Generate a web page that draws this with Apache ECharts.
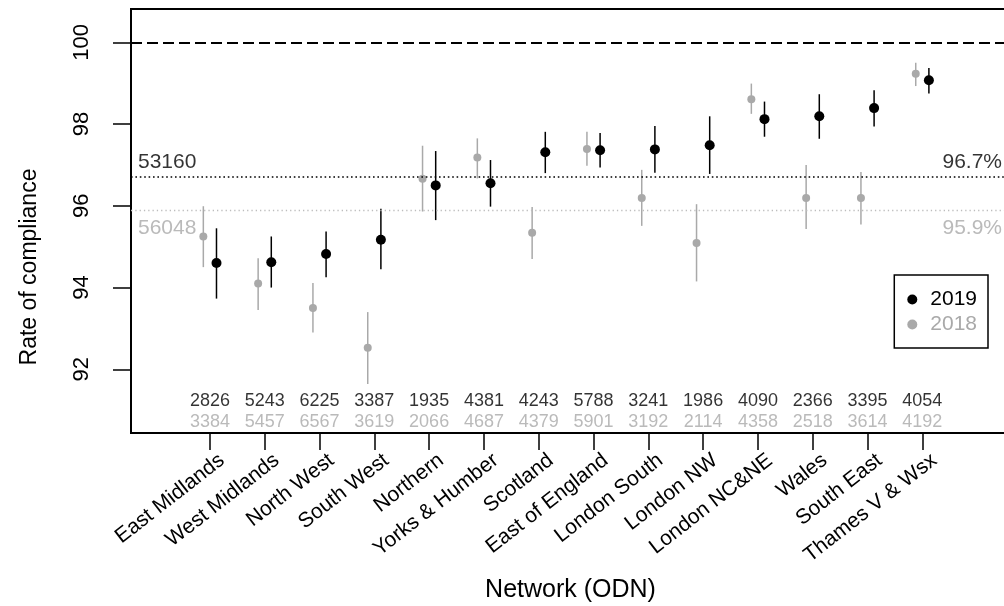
<!DOCTYPE html>
<html>
<head>
<meta charset="utf-8">
<script src="https://cdn.jsdelivr.net/npm/echarts@6/dist/echarts.min.js"></script>
<style>
  html, body { margin: 0; padding: 0; background: #fff; }
  #chart { width: 1004px; height: 606px; }
</style>
</head>
<body>
<div id="chart"></div>
<script>
// Networks, ordered by 2019 compliance
const categories = ['East Midlands', 'West Midlands', 'North West', 'South West', 'Northern',
  'Yorks & Humber', 'Scotland', 'East of England', 'London South', 'London NW',
  'London NC&NE', 'Wales', 'South East', 'Thames V & Wsx'];

// 2019: rate of compliance (%) with 95% interval
const rate2019 = [94.60, 94.62, 94.82, 95.17, 96.50, 96.55, 97.31, 97.36, 97.38, 97.48, 98.12, 98.19, 98.39, 99.07];
const low2019  = [93.73, 94.00, 94.25, 94.45, 95.65, 95.98, 96.80, 96.94, 96.81, 96.78, 97.69, 97.64, 97.94, 98.75];
const high2019 = [95.45, 95.25, 95.37, 95.93, 97.34, 97.12, 97.81, 97.78, 97.95, 98.19, 98.55, 98.73, 98.83, 99.37];

// 2018: rate of compliance (%) with 95% interval
const rate2018 = [95.25, 94.10, 93.50, 92.53, 96.66, 97.18, 95.34, 97.39, 96.19, 95.09, 98.61, 96.19, 96.19, 99.23];
const low2018  = [94.50, 93.45, 92.90, 91.64, 95.86, 96.67, 94.70, 96.98, 95.51, 94.15, 98.25, 95.43, 95.54, 98.93];
const high2018 = [95.99, 94.72, 94.11, 93.40, 97.47, 97.65, 95.97, 97.81, 96.88, 96.04, 98.99, 97.00, 96.83, 99.50];

// Number of records per network
const n2019 = [2826, 5243, 6225, 3387, 1935, 4381, 4243, 5788, 3241, 1986, 4090, 2366, 3395, 4054];
const n2018 = [3384, 5457, 6567, 3619, 2066, 4687, 4379, 5901, 3192, 2114, 4358, 2518, 3614, 4192];

// National rates
const overall2019 = 96.7;
const overall2018 = 95.9;
const target = 100;

const yTicks = [92, 94, 96, 98, 100];

const BLACK = '#000000';
const GREY = '#a9a9a9';
const FONT = 'Liberation Sans, Arial, sans-serif';
const total2019 = n2019.reduce((a, b) => a + b, 0);
const total2018 = n2018.reduce((a, b) => a + b, 0);
const positions = categories.map((c, i) => i + 1);
const DODGE = 0.12;          // horizontal split between the two years
const LABEL_SHIFT = 0.22;    // slanted name labels hang just right of their tick
const X_MIN = -0.44, X_MAX = 15.6;
const COUNT_Y_2019 = 91.22;
const COUNT_Y_2018 = 90.72;

function errorBars(low, high, shift, color) {
  return {
    type: 'custom',
    silent: true,
    z: 3,
    data: positions.map((p, i) => [p + shift, low[i], high[i]]),
    renderItem: function (params, api) {
      const x = api.value(0);
      const a = api.coord([x, api.value(1)]);
      const b = api.coord([x, api.value(2)]);
      return {
        type: 'line',
        shape: { x1: a[0], y1: a[1], x2: b[0], y2: b[1] },
        style: { stroke: color, lineWidth: 1.5 }
      };
    }
  };
}

function countLabels(counts, level, color) {
  return {
    type: 'scatter',
    silent: true,
    symbolSize: 0,
    data: positions.map((p, i) => [p, level, counts[i]]),
    label: {
      show: true,
      position: 'inside',
      formatter: (d) => String(d.value[2]),
      color: color,
      fontSize: 18,
      fontFamily: FONT
    }
  };
}

const chart = echarts.init(document.getElementById('chart'), null, { renderer: 'canvas' });

chart.setOption({
  animation: false,
  textStyle: { fontFamily: FONT, color: '#000' },
  grid: {
    left: 131, top: 9, right: -6, bottom: 173,
    outerBoundsMode: 'none',
    containLabel: false,
    show: true, borderColor: '#000', borderWidth: 2, backgroundColor: 'transparent'
  },
  legend: {
    right: 16, top: 275,
    orient: 'vertical',
    data: [
      { name: '2019', icon: 'circle', itemStyle: { color: BLACK }, textStyle: { color: BLACK } },
      { name: '2018', icon: 'circle', itemStyle: { color: GREY }, textStyle: { color: GREY } }
    ],
    itemWidth: 10, itemHeight: 10, itemGap: 4,
    padding: [14, 11, 13, 13],
    borderColor: '#000', borderWidth: 1.5,
    textStyle: { fontSize: 21, lineHeight: 21, padding: [0, 0, 0, 8] }
  },
  xAxis: {
    type: 'value',
    min: X_MIN, max: X_MAX,
    name: 'Network (ODN)',
    nameLocation: 'middle',
    nameGap: 145,
    nameMoveOverlap: false,
    nameTextStyle: { fontSize: 25, color: '#000' },
    axisLine: { show: false, onZero: false },
    splitLine: { show: false },
    axisTick: { show: true, customValues: positions, length: 17, lineStyle: { color: '#000', width: 1.5 } },
    axisLabel: {
      customValues: positions.map((p) => p + LABEL_SHIFT),
      rotate: 38,
      margin: 25,
      fontSize: 21,
      color: '#000',
      formatter: (v) => categories[Math.round(v) - 1] || ''
    }
  },
  yAxis: {
    type: 'value',
    min: 90.442, max: 100.815,
    name: 'Rate of compliance',
    nameLocation: 'middle',
    nameGap: 90,
    nameTextStyle: { fontSize: 23, color: '#000', padding: [0, 92, 0, 0] },
    axisLine: { show: false, onZero: false },
    splitLine: { show: false },
    axisTick: { show: true, customValues: yTicks, length: 18, lineStyle: { color: '#000', width: 1.5 } },
    axisLabel: {
      customValues: yTicks,
      rotate: 90,
      margin: 38,
      fontSize: 22,
      color: '#000'
    }
  },
  series: [
    {
      type: 'line',
      name: 'refs',
      data: [],
      silent: true,
      markLine: {
        silent: true,
        symbol: 'none',
        animation: false,
        data: [
          {
            yAxis: target,
            lineStyle: { color: '#000', width: 2, type: [11, 5] },
            label: { show: false }
          },
          {
            yAxis: overall2019,
            lineStyle: { color: '#000', width: 1.6, type: [1.6, 2.8] },
            label: { show: false }
          },
          {
            yAxis: overall2018,
            lineStyle: { color: '#bdbdbd', width: 1.3, type: [1.3, 3] },
            label: { show: false }
          }
        ]
      }
    },
    // Reference line annotations: sample size on the left, rate on the right
    {
      type: 'scatter',
      silent: true,
      symbolSize: 0,
      data: [
        { value: [X_MIN, overall2019], label: { formatter: String(total2019), position: 'right', color: BLACK, offset: [2, -15] } },
        { value: [X_MIN, overall2018], label: { formatter: String(total2018), position: 'right', color: GREY, offset: [2, 18] } }
      ],
      label: { show: true, fontSize: 21 }
    },
    {
      type: 'scatter',
      silent: true,
      symbolSize: 0,
      data: [
        { value: [X_MAX, overall2019], label: { formatter: overall2019.toFixed(1) + '%', position: 'left', color: BLACK, offset: [-3, -15] } },
        { value: [X_MAX, overall2018], label: { formatter: overall2018.toFixed(1) + '%', position: 'left', color: GREY, offset: [-3, 18] } }
      ],
      label: { show: true, fontSize: 21 }
    },
    errorBars(low2018, high2018, -DODGE, GREY),
    errorBars(low2019, high2019, DODGE, BLACK),
    {
      type: 'scatter',
      name: '2018',
      z: 4,
      symbol: 'circle',
      symbolSize: 8,
      itemStyle: { color: GREY, opacity: 1 },
      data: positions.map((p, i) => [p - DODGE, rate2018[i]])
    },
    {
      type: 'scatter',
      name: '2019',
      z: 5,
      symbol: 'circle',
      symbolSize: 10,
      itemStyle: { color: BLACK, opacity: 1 },
      data: positions.map((p, i) => [p + DODGE, rate2019[i]])
    },
    countLabels(n2019, COUNT_Y_2019, BLACK),
    countLabels(n2018, COUNT_Y_2018, GREY)
  ]
});
</script>
</body>
</html>
